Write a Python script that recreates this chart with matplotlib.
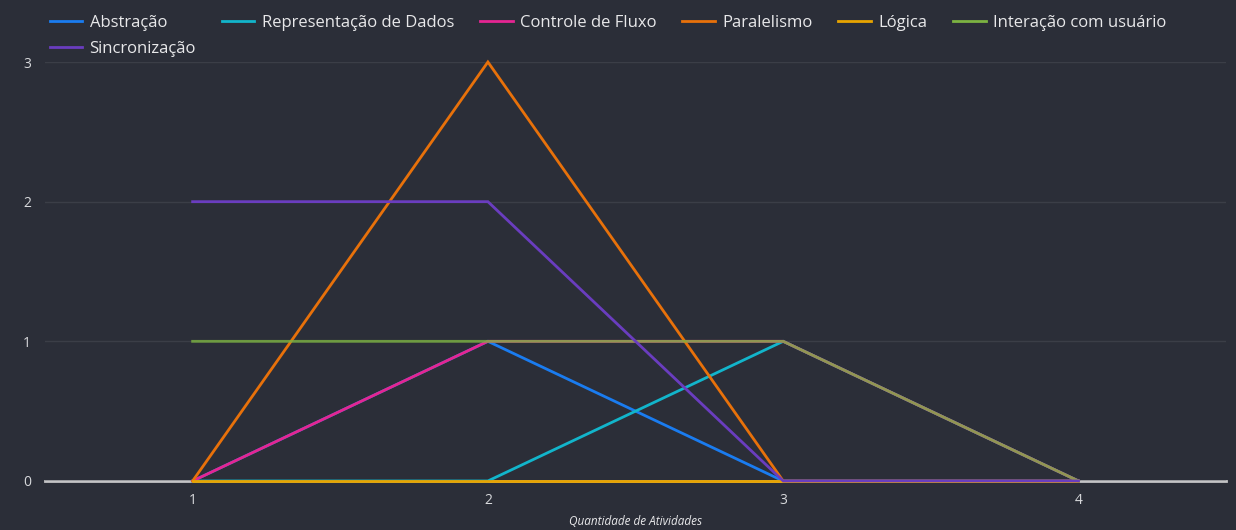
import matplotlib.pyplot as plt
import numpy as np

# dados
atividades = [1, 2, 3, 4]
abstracao = [0, 1, 0, 0]
representacao = [0, 0, 1, 0]
controle = [0, 1, 1, 0]
paralelismo = [0, 3, 0, 0]
logica = [0, 0, 0, 0]
interacao = [1, 1, 1, 0]
sincronizacao = [2, 2, 0, 0]

nomes = ['Abstração', 'Representação de Dados', 'Controle de Fluxo', 'Paralelismo',
         'Lógica', 'Interação com usuário', 'Sincronização']
series = [abstracao, representacao, controle, paralelismo, logica, interacao, sincronizacao]
cores = ['#1a7cf0', '#12b5cb', '#e52592', '#e8710a', '#e8a400', '#7cb342', '#6a3dbf']
alfas = [1, 1, 1, 1, 1, 0.8, 1]

plt.rcParams['font.family'] = ['Open Sans', 'DejaVu Sans']
fundo = '#2b2e38'

fig = plt.figure(figsize=(12.36, 5.30), dpi=100, facecolor=fundo)
ax = fig.add_axes([0.0364, 0.0925, 0.9556, 0.7905], facecolor=fundo)

ax.axhline(0, color='#c4c4c6', lw=2, zorder=1.5, clip_on=False)
linhas = {}
for nome, vals, cor, a in zip(nomes, series, cores, alfas):
    l, = ax.plot(atividades, vals, color=cor, lw=2, alpha=a, label=nome,
                 solid_joinstyle='miter', zorder=3, clip_on=False)
    linhas[nome] = l

ax.set_xlim(0.5, 4.5)
ax.set_ylim(0, 3)
ax.set_xticks(atividades)
ax.set_yticks([0, 1, 2, 3])
ax.grid(axis='y', color='#3b3e47', lw=1)
ax.grid(axis='x', visible=False)
for s in ax.spines.values():
    s.set_visible(False)
ax.tick_params(length=0, colors='#d8d9dc', labelsize=10)
ax.tick_params(axis='x', pad=9)
ax.tick_params(axis='y', pad=10)
ax.set_xlabel('Quantidade de Atividades', color='#e8e8ea', fontsize=8.5,
              style='italic', labelpad=5)

ordem = ['Abstração', 'Sincronização', 'Representação de Dados', 'Controle de Fluxo',
         'Paralelismo', 'Lógica', 'Interação com usuário']
leg = fig.legend([linhas[n] for n in ordem], ordem, ncol=6, loc='upper left',
                 bbox_to_anchor=(0.028, 1.0), frameon=False, fontsize=12,
                 labelcolor='#e8e8ea', handlelength=1.95, handletextpad=0.45,
                 columnspacing=1.55, labelspacing=0.6)
for h in leg.legend_handles:
    h.set_alpha(1)

plt.savefig('out.png', dpi=100, facecolor=fundo)
